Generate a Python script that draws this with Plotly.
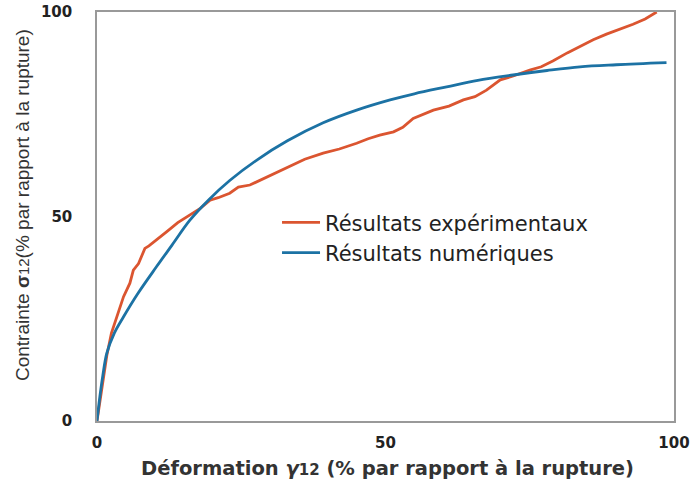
import plotly.graph_objects as go

# Experimental results (red)
exp_x = [0, 1.7, 2.5, 3.5, 4.6, 5.7, 6.3, 7.2, 8.3, 9.0, 10.3, 12.1, 14.0, 16.1, 17.9, 19.6, 21.0,
         23.0, 24.5, 26.5, 30.0, 33.4, 36.0, 39.2, 42.0, 45.0, 47.0, 49.0, 51.4, 53.0, 54.8,
         58.3, 61.0, 63.5, 65.5, 67.5, 69.9, 72.0, 75.0, 77.0, 79.0, 81.5, 83.7, 86.0,
         88.3, 90.5, 92.9, 95.0, 97.0]
exp_y = [0, 16.0, 21.5, 26.0, 30.4, 33.7, 36.9, 38.5, 42.2, 42.8, 44.2, 46.3, 48.5, 50.4, 52.0, 54.0, 54.6,
         55.7, 57.2, 57.7, 60.0, 62.2, 64.0, 65.5, 66.5, 67.9, 69.0, 69.9, 70.7, 71.8, 74.0,
         76.0, 77.0, 78.5, 79.3, 80.9, 83.4, 84.3, 85.8, 86.6, 88.0, 90.0, 91.6, 93.2,
         94.6, 95.7, 97.0, 98.3, 100.0]

# Numerical results (blue)
num_x = [0, 0.5, 1.0, 1.7, 3.0, 4.6, 7.0, 10.3, 13.0, 16.1, 19.3, 23.0, 27.7, 33.0, 39.2,
         45.0, 50.8, 55.0, 60.6, 66.0, 72.1, 78.0, 83.7, 90.0, 98.7]
num_y = [0, 6.0, 11.0, 16.6, 21.5, 25.5, 31.0, 37.7, 43.0, 49.1, 54.0, 58.8, 63.8, 68.5, 72.9,
         76.0, 78.5, 80.0, 81.7, 83.3, 84.6, 85.7, 86.6, 87.1, 87.6]

x_ticks = [0, 50, 100]
y_ticks = [0, 50, 100]

fig = go.Figure()
fig.add_trace(go.Scatter(x=exp_x, y=exp_y, mode="lines", name="Résultats expérimentaux",
                         line=dict(color="#DB5530", width=2.8)))
fig.add_trace(go.Scatter(x=num_x, y=num_y, mode="lines", name="Résultats numériques",
                         line=dict(color="#1C72A4", width=2.8, shape="spline")))

tick_font = dict(family="DejaVu Sans", size=15, color="#222", weight="bold")
fig.update_layout(
    width=693, height=488,
    margin=dict(l=97, r=19, t=12, b=67),
    paper_bgcolor="white", plot_bgcolor="white",
    showlegend=True,
    legend=dict(x=0.312, y=0.535, xanchor="left", yanchor="top",
                bgcolor="rgba(0,0,0,0)",
                font=dict(family="DejaVu Sans", size=21, color="#222"),
                tracegroupgap=0, itemwidth=38),
    xaxis=dict(range=[0, 100], tickvals=x_ticks, showgrid=False, zeroline=False,
               showline=True, mirror=True, linecolor="#999", linewidth=1.5,
               ticks="", tickfont=tick_font, ticklabelstandoff=7, automargin=False),
    yaxis=dict(range=[0, 100], tickvals=y_ticks, showgrid=False, zeroline=False,
               showline=True, mirror=True, linecolor="#999", linewidth=1.5,
               ticks="", tickfont=tick_font, ticklabelstandoff=20, automargin=False),
    annotations=[
        dict(text="<b>Déformation <i>γ</i><span style='font-size:15px'>12</span> (% par rapport à la rupture)</b>",
             xref="paper", yref="paper", x=0.503, y=-0.115, xanchor="center", yanchor="middle",
             showarrow=False, font=dict(family="DejaVu Sans", size=19.5, color="#333")),
        dict(text="Contrainte <b>σ</b><span style='font-size:15px'>12</span>(% par rapport à la rupture)",
             xref="paper", yref="paper", x=-0.13, y=0.528, xanchor="center", yanchor="middle",
             textangle=-90, showarrow=False,
             font=dict(family="Liberation Sans", size=19, color="#333")),
    ],
)

fig.write_html("out.html", config={"displayModeBar": False},
               post_script="document.body.style.margin='0';")
